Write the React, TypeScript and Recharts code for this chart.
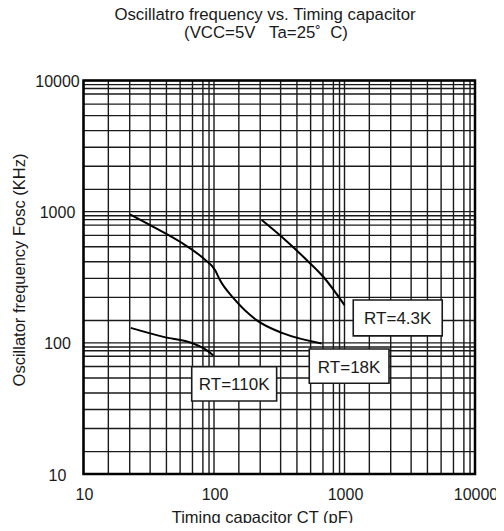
import React from 'react';
import { LineChart, Line, XAxis, YAxis, CartesianGrid, ReferenceArea } from 'recharts';

// Curves: timing capacitor (pF) vs oscillator frequency (KHz)
const rt43k = [
  { ct: 232, f: 864 },
  { ct: 330, f: 644 },
  { ct: 513, f: 428 },
  { ct: 688, f: 319 },
  { ct: 1000, f: 194 },
];

const rt18k = [
  { ct: 22.7, f: 955 },
  { ct: 34.3, f: 767 },
  { ct: 54.9, f: 590 },
  { ct: 82.8, f: 441 },
  { ct: 101.8, f: 359 },
  { ct: 111, f: 301 },
  { ct: 141, f: 219 },
  { ct: 212, f: 149 },
  { ct: 340, f: 118 },
  { ct: 668, f: 99 },
];

const rt110k = [
  { ct: 23, f: 130 },
  { ct: 41, f: 111 },
  { ct: 69, f: 99 },
  { ct: 83, f: 91 },
  { ct: 99, f: 80 },
];

// decade labels and the (uneven) minor rulings of the printed log paper
const decades = [10, 100, 1000, 10000];
const xMinor = [1.55, 2.26, 3.24, 4.32, 5.5, 6.84, 8.22, 9.16];
const yMinor = [1.48, 2.22, 3.1, 4.15, 5.4, 6.6, 7.9, 8.7, 9.3];

// callout boxes: [label, ct from, ct to, f from, f to]
const callouts: [string, number, number, number, number][] = [
  ['RT=4.3K', 1167, 5610, 113, 212],
  ['RT=18K', 537, 2193, 49.2, 89.8],
  ['RT=110K', 67.5, 302, 36, 65.8],
];

const buildTicks = (minor: number[]) => {
  const out: number[] = [];
  decades.forEach((d, i) => {
    out.push(d);
    if (i < decades.length - 1) minor.forEach((m) => out.push(+(d * m).toPrecision(4)));
  });
  return out;
};

const xTicks = buildTicks(xMinor);
const yTicks = buildTicks(yMinor);

const FONT = '"Liberation Sans", Arial, sans-serif';
const INK = '#1a1a1a';

const XTick = (props: any) => {
  const { x, y, payload } = props;
  if (!decades.includes(payload.value)) return null;
  return (
    <text x={x + 1} y={y + 20} textAnchor="middle" dominantBaseline="central" fontSize={16} fill={INK} fontFamily={FONT}>
      {payload.value}
    </text>
  );
};

const YTick = (props: any) => {
  const { x, y, payload } = props;
  if (!decades.includes(payload.value)) return null;
  return (
    <text x={x - 26} y={y + 1} textAnchor="middle" dominantBaseline="central" fontSize={16} fill={INK} fontFamily={FONT}>
      {payload.value}
    </text>
  );
};

const BoxLabel = (props: any) => {
  const { viewBox, value } = props;
  const cx = viewBox.x + viewBox.width / 2;
  const cy = viewBox.y + viewBox.height / 2;
  return (
    <text x={cx} y={cy + 1} textAnchor="middle" dominantBaseline="central" fontSize={17} fill={INK} fontFamily={FONT}>
      {value}
    </text>
  );
};

export default function App() {
  return (
    <div style={{ margin: -8, padding: 8, width: 488, height: 515, overflow: 'hidden', background: '#fff' }}>
      <style>{'svg.recharts-surface { overflow: visible; }'}</style>
      <div style={{ position: 'relative', width: 488, height: 515, fontFamily: FONT, color: INK }}>
        <div style={{ position: 'absolute', left: 0, width: 514, top: -2, textAlign: 'center', fontSize: 16.8, lineHeight: '18px' }}>
          Oscillatro frequency vs. Timing capacitor
        </div>
        <div style={{ position: 'absolute', left: 0, width: 516, top: 16, textAlign: 'center', fontSize: 16.8, lineHeight: '18px', whiteSpace: 'pre' }}>
          {'(VCC=5V   Ta=25˚  C)'}
        </div>
        <div style={{ position: 'absolute', left: 11, top: 262, width: 0, height: 0 }}>
          <div style={{ position: 'absolute', transform: 'translate(-50%, -50%) rotate(-90deg)', whiteSpace: 'nowrap', fontSize: 16.5, lineHeight: '18px' }}>
            Oscillator frequency Fosc (KHz)
          </div>
        </div>
        <div style={{ position: 'absolute', left: 0, width: 509, top: 500, textAlign: 'center', fontSize: 16.5, lineHeight: '18px' }}>
          Timing capacitor CT (pF)
        </div>

        <div style={{ position: 'absolute', left: 0, top: 0 }}>
          <LineChart width={488} height={515} margin={{ top: 72.5, right: 21, bottom: 19, left: 15.5 }}>
            <CartesianGrid stroke={INK} strokeWidth={1.4} />
            <XAxis
              dataKey="ct"
              type="number"
              scale="log"
              domain={[10, 10000]}
              ticks={xTicks}
              interval={0}
              allowDataOverflow
              height={30}
              tickSize={0}
              tickMargin={0}
              axisLine={false}
              tick={<XTick />}
            />
            <YAxis
              dataKey="f"
              type="number"
              scale="log"
              domain={[10, 10000]}
              ticks={yTicks}
              interval={0}
              allowDataOverflow
              width={60}
              tickSize={0}
              tickMargin={0}
              axisLine={false}
              tick={<YTick />}
            />
            <Line data={rt43k} dataKey="f" type="monotone" stroke="#000" strokeWidth={2} dot={false} isAnimationActive={false} />
            <Line data={rt18k} dataKey="f" type="monotone" stroke="#000" strokeWidth={2} dot={false} isAnimationActive={false} />
            <Line data={rt110k} dataKey="f" type="monotone" stroke="#000" strokeWidth={2} dot={false} isAnimationActive={false} />
            {callouts.map(([name, x1, x2, y1, y2]) => (
              <ReferenceArea
                key={name}
                x1={x1}
                x2={x2}
                y1={y1}
                y2={y2}
                fill="#fff"
                fillOpacity={1}
                stroke={INK}
                strokeWidth={1.6}
                label={<BoxLabel value={name} />}
              />
            ))}
            <ReferenceArea x1={10} x2={10000} y1={10} y2={10000} fill="none" stroke="#000" strokeWidth={2.5} />
          </LineChart>
        </div>
      </div>
    </div>
  );
}
